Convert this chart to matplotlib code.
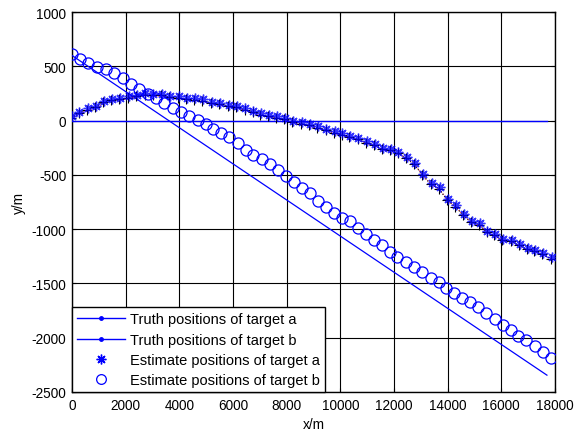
import matplotlib
matplotlib.use("Agg")
import matplotlib.pyplot as plt
from matplotlib.lines import Line2D
from matplotlib.transforms import offset_copy

plt.rcParams['font.family'] = ['Liberation Sans', 'DejaVu Sans']

# Truth positions
truth_a_x = [0, 17700]
truth_a_y = [0, 0]
truth_b_x = [0, 17700]
truth_b_y = [600, -2345]

# Estimate positions of target a
est_a_x = [0, 273, 584, 894, 1180, 1490, 1788, 2110, 2420, 2730, 3030, 3350, 3650, 3974,
           4270, 4590, 4870, 5214, 5512, 5836, 6134, 6455, 6753, 7051, 7325, 7646, 7944,
           8242, 8566, 8864, 9162, 9480, 9795, 10080, 10365, 10676, 10987, 11296, 11594,
           11881, 12167, 12477, 12786, 13084, 13408, 13706, 14000, 14315, 14611, 14898,
           15196, 15482, 15765, 16063, 16387, 16685, 16983, 17255, 17553, 17877]
est_a_y = [40, 82, 113, 137, 180, 199, 208, 224, 239, 251, 245, 245, 229, 224,
           211, 205, 196, 174, 162, 144, 137, 113, 91, 67, 54, 40, 24,
           -1, -16, -31, -53, -74, -99, -117, -139, -160, -191, -215, -250,
           -262, -286, -332, -390, -489, -575, -614, -719, -780, -860, -922,
           -946, -1014, -1044, -1090, -1099, -1136, -1173, -1189, -1219, -1259]

# Estimate positions of target b
est_b_x = [0, 298, 607, 943, 1266, 1577, 1888, 2197, 2483, 2818, 3128, 3438, 3750, 4060,
           4370, 4680, 4990, 5263, 5550, 5860, 6171, 6480, 6753, 7076, 7374, 7672, 7970,
           8275, 8585, 8864, 9173, 9460, 9758, 10045, 10354, 10663, 10950, 11248, 11546,
           11844, 12130, 12439, 12737, 13048, 13365, 13669, 13955, 14238, 14551, 14849,
           15147, 15445, 15754, 16063, 16350, 16637, 16935, 17244, 17553, 17866]
est_b_y = [613, 567, 530, 491, 475, 435, 389, 337, 291, 245, 205, 162, 116, 76,
           40, 3, -31, -77, -114, -154, -206, -268, -317, -354, -400, -452, -513,
           -566, -618, -670, -738, -798, -851, -897, -927, -989, -1044, -1097, -1145,
           -1207, -1253, -1305, -1351, -1397, -1446, -1487, -1541, -1590, -1634, -1673,
           -1719, -1775, -1827, -1882, -1928, -1981, -2017, -2078, -2134, -2186]

labels = ['Truth positions of target a', 'Truth positions of target b',
          'Estimate positions of target a', 'Estimate positions of target b']
xticks = [0, 2000, 4000, 6000, 8000, 10000, 12000, 14000, 16000, 18000]
yticks = [-2500, -2000, -1500, -1000, -500, 0, 500, 1000]

blue = '#0000FF'
fig = plt.figure(figsize=(5.76, 4.35), dpi=100)
ax = fig.add_axes([0.125, 0.0966, 0.8385, 0.8734])

ax.plot(truth_a_x, truth_a_y, color=blue, lw=1.0, zorder=3)
ax.plot(truth_b_x, truth_b_y, color=blue, lw=0.9, zorder=3)

off = offset_copy(ax.transData, fig=fig, x=-0.5, y=-1.0, units='points')
ax.plot(est_a_x, est_a_y, color='red', ls=':', lw=0.7,
        transform=offset_copy(ax.transData, fig=fig, x=0, y=-1.5, units='points'), zorder=3)
ax.plot(est_a_x, est_a_y, color='black', ls=':', lw=0.8, marker='+', ms=7, mew=0.8,
        transform=off, zorder=4)
ax.plot(est_a_x, est_a_y, ls='none', marker=(8, 2, 0), ms=7, mew=1.0,
        color=blue, mec=blue, alpha=0.8, zorder=5)
ax.plot(est_b_x, est_b_y, ls='none', marker='o', ms=8, mfc='none', mec=blue,
        mew=0.9, zorder=5)

ax.set_xlim(0, 18000)
ax.set_ylim(-2500, 1000)
ax.set_xticks(xticks)
ax.set_yticks(yticks)
ax.set_xticklabels([str(v) for v in xticks])
ax.set_yticklabels([str(v) for v in yticks])
ax.grid(True, color='black', ls='-', lw=0.8)
ax.set_axisbelow(True)
ax.tick_params(direction='in', length=3, labelsize=9.8, pad=4, top=True, right=True)
for s in ax.spines.values():
    s.set_linewidth(1.0)
    s.set_color('black')

ax.set_xlabel('x/m', fontsize=9.8, labelpad=4)
ax.set_ylabel('y/m', fontsize=9.8, labelpad=4)

handles = [
    Line2D([], [], color=blue, lw=1.0, marker='.', ms=5),
    Line2D([], [], color=blue, lw=1.0, marker='.', ms=5),
    Line2D([], [], color=blue, ls='none', marker=(8, 2, 0), ms=7, mew=1.0),
    Line2D([], [], color=blue, ls='none', marker='o', ms=7, mfc='none', mew=0.9),
]
leg = ax.legend(handles, labels, loc='lower left', borderaxespad=0, fontsize=10.5,
                frameon=True, fancybox=False, shadow=False, handlelength=3.3,
                handletextpad=0.35, labelspacing=0.42, borderpad=0.35, numpoints=1)
leg.get_frame().set_edgecolor('black')
leg.get_frame().set_linewidth(1.0)
leg.get_frame().set_alpha(1)
leg.set_zorder(10)

fig.savefig('out.png', dpi=100)
